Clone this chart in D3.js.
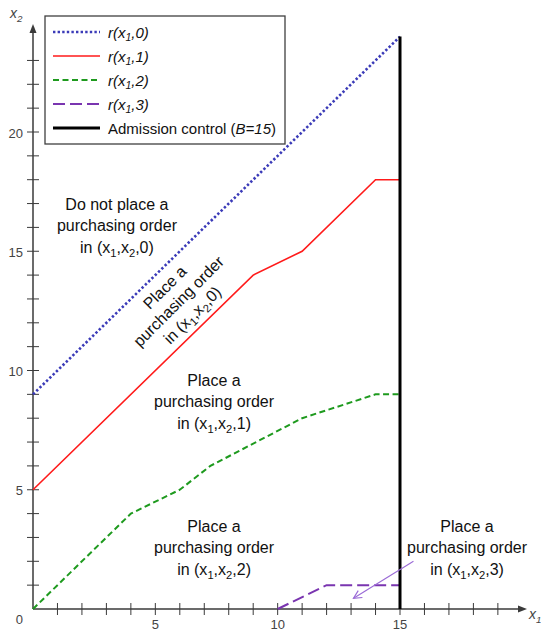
<!DOCTYPE html>
<html><head><meta charset="utf-8">
<script src="https://cdn.jsdelivr.net/npm/d3@7"></script>
<style>
body{margin:0;background:#fff}
svg{display:block;font-family:"Liberation Sans",Arial,sans-serif}
</style>
</head><body>
<svg id="chart" width="541" height="630"></svg>
<script>
// Switching curves r(x1,k): breakpoints (x1, x2)
const r0X = [0, 15],                        r0Y = [9, 24];
const r1X = [0, 9, 11, 14, 15],             r1Y = [5, 14, 15, 18, 18];
const r2X = [0, 4, 6, 7.25, 11, 14, 15],    r2Y = [0, 4, 5, 6, 8, 9, 9];
const r3X = [10, 12, 15],                   r3Y = [0, 1, 1];
// Admission control threshold B and the top of its line
const admissionB = 15, admissionTop = 24;

const xTicks = d3.range(1, 20);
const yTicks = d3.range(1, 24);
const xTickLabels = [5, 10, 15];
const yTickLabels = [5, 10, 15, 20];

const legendLabels = ["r(x_1,0)", "r(x_1,1)", "r(x_1,2)", "r(x_1,3)", "Admission control (B=15)"];

// Region descriptions, anchored at the middle line (x1, x2)
const regionLines = [
  ["Do not place a", "purchasing order", "in (x_1,x_2,0)"],
  ["Place a", "purchasing order", "in (x_1,x_2,0)"],
  ["Place a", "purchasing order", "in (x_1,x_2,1)"],
  ["Place a", "purchasing order", "in (x_1,x_2,2)"],
  ["Place a", "purchasing order", "in (x_1,x_2,3)"]
];
const regionX = [3.43, 5.95, 7.4, 7.4, 17.74];
const regionY = [16.06, 12.9, 8.68, 2.56, 2.56];
const regionAngle = [0, -45, 0, 0, 0];
const regionLeading = [21.5, 19.5, 21.5, 21.5, 21.5];

// Pointer from the r(x1,3) label to its region
const pointerFrom = [15.55, 2.0], pointerTo = [13.1, 0.45];

const svg = d3.select("#chart");
const x = d3.scaleLinear().domain([0, 15]).range([33, 400]);
const y = d3.scaleLinear().domain([0, 20]).range([609, 132]);

const axisColor = "#3a3a3a";

// subscript-aware text writer: "x_1" -> x with subscript 1
function richText(sel, str, size, italicAll) {
  const parts = str.split(/_(\d)/);
  parts.forEach((p, i) => {
    if (p === "") return;
    const sub = i % 2 === 1;
    const t = sel.append("tspan").text(p);
    if (sub) {
      t.attr("font-size", size * 0.7).attr("dy", size * 0.25);
    } else if (i > 0) {
      t.attr("dy", -size * 0.25);
    }
    if (italicAll) t.attr("font-style", "italic");
  });
}

// Axes
const axes = svg.append("g");
axes.append("line").attr("x1", x(0)).attr("x2", 520).attr("y1", y(0)).attr("y2", y(0))
  .attr("stroke", axisColor).attr("stroke-width", 1.5);
axes.append("line").attr("x1", x(0)).attr("x2", x(0)).attr("y1", y(0)).attr("y2", 30)
  .attr("stroke", axisColor).attr("stroke-width", 1.5);
axes.append("path").attr("d", `M527,${y(0)} L518,${y(0) - 3.5} L518,${y(0) + 3.5} Z`).attr("fill", axisColor);
axes.append("path").attr("d", `M${x(0)},24 L${x(0) - 3.5},33 L${x(0) + 3.5},33 Z`).attr("fill", axisColor);

axes.selectAll(".xt").data(xTicks).join("line")
  .attr("x1", d => x(d)).attr("x2", d => x(d))
  .attr("y1", y(0) - 6).attr("y2", y(0) + 6)
  .attr("stroke", axisColor).attr("stroke-width", 1);
axes.selectAll(".yt").data(yTicks).join("line")
  .attr("y1", d => y(d)).attr("y2", d => y(d))
  .attr("x1", x(0) - 6).attr("x2", x(0) + 6)
  .attr("stroke", axisColor).attr("stroke-width", 1);

axes.selectAll(".xl").data(xTickLabels).join("text")
  .attr("x", d => x(d)).attr("y", 628.5)
  .attr("text-anchor", "middle").attr("font-size", 13).attr("fill", "#444").text(d => d);
axes.selectAll(".yl").data(yTickLabels).join("text")
  .attr("x", 23).attr("y", d => y(d) + 5.5)
  .attr("text-anchor", "end").attr("font-size", 13).attr("fill", "#444").text(d => d);
axes.append("text").attr("x", 23).attr("y", y(0) + 14.5).attr("text-anchor", "end")
  .attr("font-size", 13).attr("fill", "#444").text(0);

// axis titles
richText(axes.append("text").attr("x", 10).attr("y", 18).attr("font-size", 14).attr("fill", "#444"), "x_2", 14, true);
richText(axes.append("text").attr("x", 529).attr("y", 619).attr("font-size", 14).attr("fill", "#444"), "x_1", 14, true);

// Curves
const line = d3.line().x(d => x(d[0])).y(d => y(d[1]));
const zip = (a, b) => a.map((v, i) => [v, b[i]]);
const styles = [
  {color: "#3b3bb8", width: 2.6, dash: "2.4,2.2"},
  {color: "#ff1a1a", width: 1.6, dash: null},
  {color: "#1e9a1e", width: 2, dash: "6,3.5"},
  {color: "#7a35b0", width: 2, dash: "12,5"},
  {color: "#000000", width: 3, dash: null}
];
const curves = [zip(r0X, r0Y), zip(r1X, r1Y), zip(r2X, r2Y), zip(r3X, r3Y)];
svg.append("g").selectAll("path").data(curves).join("path")
  .attr("d", line).attr("fill", "none")
  .attr("stroke", (d, i) => styles[i].color)
  .attr("stroke-width", (d, i) => styles[i].width)
  .attr("stroke-dasharray", (d, i) => styles[i].dash);

svg.append("line")
  .attr("x1", x(admissionB)).attr("x2", x(admissionB))
  .attr("y1", y(0)).attr("y2", y(admissionTop))
  .attr("stroke", styles[4].color).attr("stroke-width", styles[4].width);

// Region labels
regionLines.forEach((lines, k) => {
  const g = svg.append("g")
    .attr("transform", `translate(${x(regionX[k])},${y(regionY[k])}) rotate(${regionAngle[k]})`);
  lines.forEach((s, j) => {
    const t = g.append("text").attr("x", 0).attr("y", (j - 1) * regionLeading[k] + 5.5)
      .attr("text-anchor", "middle").attr("font-size", 16).attr("fill", "#111");
    richText(t, s, 16, false);
  });
});

// Pointer arrow
svg.append("defs").append("marker").attr("id", "vhead")
  .attr("viewBox", "0 0 10 10").attr("refX", 9).attr("refY", 5)
  .attr("markerWidth", 10).attr("markerHeight", 10).attr("markerUnits", "userSpaceOnUse")
  .attr("orient", "auto")
  .append("path").attr("d", "M1,1 L9,5 L1,9").attr("fill", "none")
  .attr("stroke", "#9a6ad6").attr("stroke-width", 1.2);
svg.append("line")
  .attr("x1", x(pointerFrom[0])).attr("y1", y(pointerFrom[1]))
  .attr("x2", x(pointerTo[0])).attr("y2", y(pointerTo[1]))
  .attr("stroke", "#9a6ad6").attr("stroke-width", 1.1)
  .attr("marker-end", "url(#vhead)");

// Legend
const legend = svg.append("g");
legend.append("rect").attr("x", 45).attr("y", 16).attr("width", 240).attr("height", 128)
  .attr("fill", "#fff").attr("stroke", "#404040").attr("stroke-width", 1.3);
legendLabels.forEach((lab, i) => {
  const cy = 32 + i * 24;
  const st = styles[i];
  legend.append("line").attr("x1", 53).attr("x2", 100).attr("y1", cy).attr("y2", cy)
    .attr("stroke", st.color).attr("stroke-width", i === 4 ? 3 : st.width)
    .attr("stroke-dasharray", st.dash);
  const t = legend.append("text").attr("x", 108).attr("y", cy + 5.5)
    .attr("font-size", 15).attr("fill", "#111");
  if (i < 4) {
    richText(t, lab, 15, true);
  } else {
    t.append("tspan").text("Admission control (");
    t.append("tspan").attr("font-style", "italic").text("B=15");
    t.append("tspan").text(")");
  }
});
</script>
</body></html>
